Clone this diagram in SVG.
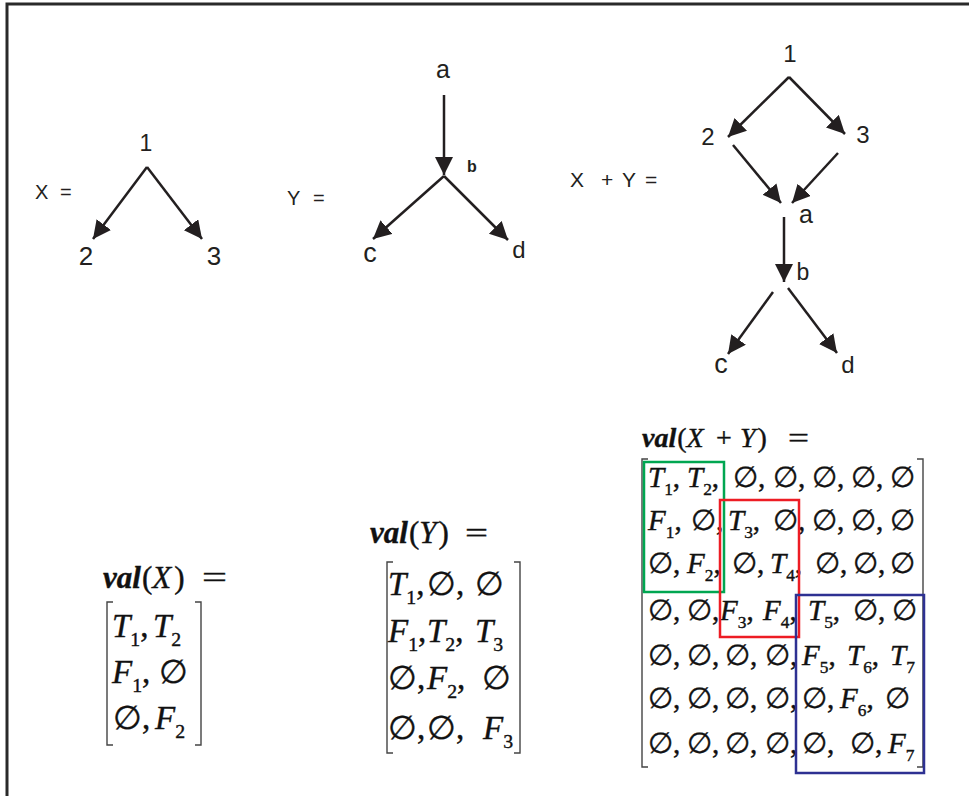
<svg xmlns="http://www.w3.org/2000/svg" width="969" height="796" viewBox="0 0 969 796">
<style>
.lbl{font-family:"Liberation Sans",Arial,sans-serif;fill:#231f20}
.edge{stroke:#231f20;stroke-width:2.5;fill:none;marker-end:url(#ah)}
.m{font-family:"Liberation Serif","DejaVu Serif",serif;fill:#111;stroke:#111;stroke-width:0.4}
.i{font-style:italic}
.v{font-style:italic;font-weight:bold}
.s{font-size:0.6em}
.brk{stroke:#444;stroke-width:1.4;fill:none}
.m1{font-size:33px}
.m3{font-size:29px}
</style>
<defs>
<marker id="ah" markerUnits="userSpaceOnUse" markerWidth="20" markerHeight="20" refX="18" refY="9" orient="auto"><path d="M0,0 L18,9 L0,18 z" fill="#231f20"/></marker>
</defs>
<rect x="0" y="0" width="969" height="796" fill="#fff"/>
<path d="M7,800 V4 H975" stroke="#2a2a2a" stroke-width="3" fill="none"/>

<g id="connectors">
<line class="edge" x1="147" y1="167" x2="93" y2="239"/>
<line class="edge" x1="147" y1="167" x2="202" y2="239"/>
<line class="edge" x1="444" y1="95" x2="444" y2="175"/>
<line class="edge" x1="444" y1="176" x2="373" y2="239"/>
<line class="edge" x1="444" y1="176" x2="508" y2="240"/>
<line class="edge" x1="789" y1="77" x2="728" y2="137"/>
<line class="edge" x1="789" y1="77" x2="845" y2="134"/>
<line class="edge" x1="733" y1="145" x2="781" y2="203"/>
<line class="edge" x1="838" y1="153" x2="792" y2="203"/>
<line class="edge" x1="784" y1="217" x2="784" y2="282"/>
<line class="edge" x1="773" y1="292" x2="728" y2="354"/>
<line class="edge" x1="788" y1="288" x2="837" y2="353"/>
</g>

<g id="graphX">
<text class="lbl" y="199" font-size="20"><tspan x="35">X</tspan><tspan x="60">=</tspan></text>
<text class="lbl" x="146" y="151" font-size="23" text-anchor="middle">1</text>
<text class="lbl" x="86" y="265" font-size="26" text-anchor="middle">2</text>
<text class="lbl" x="214" y="265" font-size="26" text-anchor="middle">3</text>
</g>

<g id="graphY">
<text class="lbl" y="205" font-size="20"><tspan x="287">Y</tspan><tspan x="313">=</tspan></text>
<text class="lbl" x="443" y="78" font-size="25" text-anchor="middle">a</text>
<text class="lbl" x="467" y="172" font-size="16" font-weight="bold">b</text>
<text class="lbl" x="370" y="262" font-size="27" text-anchor="middle">c</text>
<text class="lbl" x="519" y="258" font-size="24" text-anchor="middle">d</text>
</g>

<g id="graphXY">
<text class="lbl" y="187" font-size="21"><tspan x="570">X</tspan><tspan x="601">+</tspan><tspan x="622">Y</tspan><tspan x="645">=</tspan></text>
<text class="lbl" x="790" y="62" font-size="24" text-anchor="middle">1</text>
<text class="lbl" x="708" y="145" font-size="24" text-anchor="middle">2</text>
<text class="lbl" x="863" y="143" font-size="24" text-anchor="middle">3</text>
<text class="lbl" x="806" y="223" font-size="25" text-anchor="middle">a</text>
<text class="lbl" x="803" y="280" font-size="23" text-anchor="middle">b</text>
<text class="lbl" x="721" y="373" font-size="27" text-anchor="middle">c</text>
<text class="lbl" x="848" y="373" font-size="24" text-anchor="middle">d</text>
</g>

<g id="valX" class="m m1">
<text x="103" y="588" font-size="31"><tspan class="v">val</tspan><tspan dx="1">(</tspan><tspan class="i">X</tspan><tspan dx="3">)</tspan></text>
<text x="202" y="588" font-size="31" textLength="25" lengthAdjust="spacingAndGlyphs">=</text>
<path class="brk" d="M113,602 H107 V745 H113 M195,602 H201 V745 H195"/>
<text x="112" y="637"><tspan class="i">T</tspan><tspan class="s" dy="9">1</tspan><tspan dy="-9">,</tspan></text>
<text x="153" y="637"><tspan class="i">T</tspan><tspan class="s" dy="9">2</tspan></text>
<text x="112" y="683"><tspan class="i">F</tspan><tspan class="s" dy="9">1</tspan><tspan dy="-9">,</tspan></text>
<text x="159" y="683">∅</text>
<text x="113" y="729">∅,</text>
<text x="155" y="729"><tspan class="i">F</tspan><tspan class="s" dy="9">2</tspan></text>
</g>

<g id="valY" class="m m1">
<text x="370" y="543" font-size="31"><tspan class="v">val</tspan><tspan dx="1">(</tspan><tspan class="i">Y</tspan><tspan dx="2">)</tspan></text>
<text x="465" y="543" font-size="30" textLength="23" lengthAdjust="spacingAndGlyphs">=</text>
<path class="brk" d="M393,562 H387 V753 H393 M514,562 H520 V753 H514"/>
<text x="388" y="595"><tspan class="i">T</tspan><tspan class="s" dy="9">1</tspan><tspan dy="-9">,</tspan></text>
<text x="427" y="595">∅,</text>
<text x="475" y="595">∅</text>
<text x="388" y="642"><tspan class="i">F</tspan><tspan class="s" dy="9">1</tspan><tspan dy="-9">,</tspan></text>
<text x="427" y="642"><tspan class="i">T</tspan><tspan class="s" dy="9">2</tspan><tspan dy="-9">,</tspan></text>
<text x="475" y="642"><tspan class="i">T</tspan><tspan class="s" dy="9">3</tspan></text>
<text x="388" y="689">∅,</text>
<text x="427" y="689"><tspan class="i">F</tspan><tspan class="s" dy="9">2</tspan><tspan dy="-9">,</tspan></text>
<text x="482" y="689">∅</text>
<text x="388" y="739">∅,</text>
<text x="427" y="739">∅,</text>
<text x="483" y="739"><tspan class="i">F</tspan><tspan class="s" dy="9">3</tspan></text>
</g>

<g id="valXY" class="m m3">
<text x="642" y="447" font-size="28"><tspan class="v">val</tspan><tspan dx="1">(</tspan><tspan class="i">X</tspan><tspan x="716">+</tspan><tspan x="740" class="i">Y</tspan><tspan dx="2">)</tspan></text>
<text x="788" y="447" font-size="27" textLength="21" lengthAdjust="spacingAndGlyphs">=</text>
<path class="brk" d="M648,459 H642 V767 H648 M917,459 H923 V767 H917"/>
<!-- row 1 -->
<text x="648" y="487"><tspan class="i">T</tspan><tspan class="s" dy="8">1</tspan><tspan dy="-8">,</tspan></text>
<text x="687" y="487"><tspan class="i">T</tspan><tspan class="s" dy="8">2</tspan><tspan dy="-8">,</tspan></text>
<text x="733" y="487">∅,</text>
<text x="773" y="487">∅,</text>
<text x="812" y="487">∅,</text>
<text x="851" y="487">∅,</text>
<text x="890" y="487">∅</text>
<!-- row 2 -->
<text x="648" y="530"><tspan class="i">F</tspan><tspan class="s" dy="8">1</tspan><tspan dy="-8">,</tspan></text>
<text x="691" y="530">∅,</text>
<text x="728" y="530"><tspan class="i">T</tspan><tspan class="s" dy="8">3</tspan><tspan dy="-8">,</tspan></text>
<text x="773" y="530">∅,</text>
<text x="812" y="530">∅,</text>
<text x="851" y="530">∅,</text>
<text x="890" y="530">∅</text>
<!-- row 3 -->
<text x="648" y="573">∅,</text>
<text x="687" y="573"><tspan class="i">F</tspan><tspan class="s" dy="8">2</tspan><tspan dy="-8">,</tspan></text>
<text x="732" y="573">∅,</text>
<text x="770" y="573"><tspan class="i">T</tspan><tspan class="s" dy="8">4</tspan><tspan dy="-8">,</tspan></text>
<text x="815" y="573">∅,</text>
<text x="853" y="573">∅,</text>
<text x="890" y="573">∅</text>
<!-- row 4 -->
<text x="648" y="620">∅,</text>
<text x="687" y="620">∅,</text>
<text x="720" y="620"><tspan class="i">F</tspan><tspan class="s" dy="8">3</tspan><tspan dy="-8">,</tspan></text>
<text x="763" y="620"><tspan class="i">F</tspan><tspan class="s" dy="8">4</tspan><tspan dy="-8">,</tspan></text>
<text x="808" y="620"><tspan class="i">T</tspan><tspan class="s" dy="8">5</tspan><tspan dy="-8">,</tspan></text>
<text x="853" y="620">∅,</text>
<text x="892" y="620">∅</text>
<!-- row 5 -->
<text x="648" y="665">∅,</text>
<text x="687" y="665">∅,</text>
<text x="725" y="665">∅,</text>
<text x="765" y="665">∅,</text>
<text x="802" y="665"><tspan class="i">F</tspan><tspan class="s" dy="8">5</tspan><tspan dy="-8">,</tspan></text>
<text x="847" y="665"><tspan class="i">T</tspan><tspan class="s" dy="8">6</tspan><tspan dy="-8">,</tspan></text>
<text x="890" y="665"><tspan class="i">T</tspan><tspan class="s" dy="8">7</tspan></text>
<!-- row 6 -->
<text x="648" y="708">∅,</text>
<text x="687" y="708">∅,</text>
<text x="725" y="708">∅,</text>
<text x="765" y="708">∅,</text>
<text x="802" y="708">∅,</text>
<text x="840" y="708"><tspan class="i">F</tspan><tspan class="s" dy="8">6</tspan><tspan dy="-8">,</tspan></text>
<text x="885" y="708">∅</text>
<!-- row 7 -->
<text x="648" y="753">∅,</text>
<text x="687" y="753">∅,</text>
<text x="725" y="753">∅,</text>
<text x="765" y="753">∅,</text>
<text x="802" y="753">∅,</text>
<text x="850" y="753">∅,</text>
<text x="888" y="753"><tspan class="i">F</tspan><tspan class="s" dy="8">7</tspan></text>
<rect x="644" y="462" width="80" height="130" fill="none" stroke="#00a651" stroke-width="2.5"/>
<rect x="720" y="500" width="79" height="137" fill="none" stroke="#ed1c24" stroke-width="2.5"/>
<rect x="796" y="595" width="128" height="178" fill="none" stroke="#2e3192" stroke-width="2.5"/>
</g>
</svg>
